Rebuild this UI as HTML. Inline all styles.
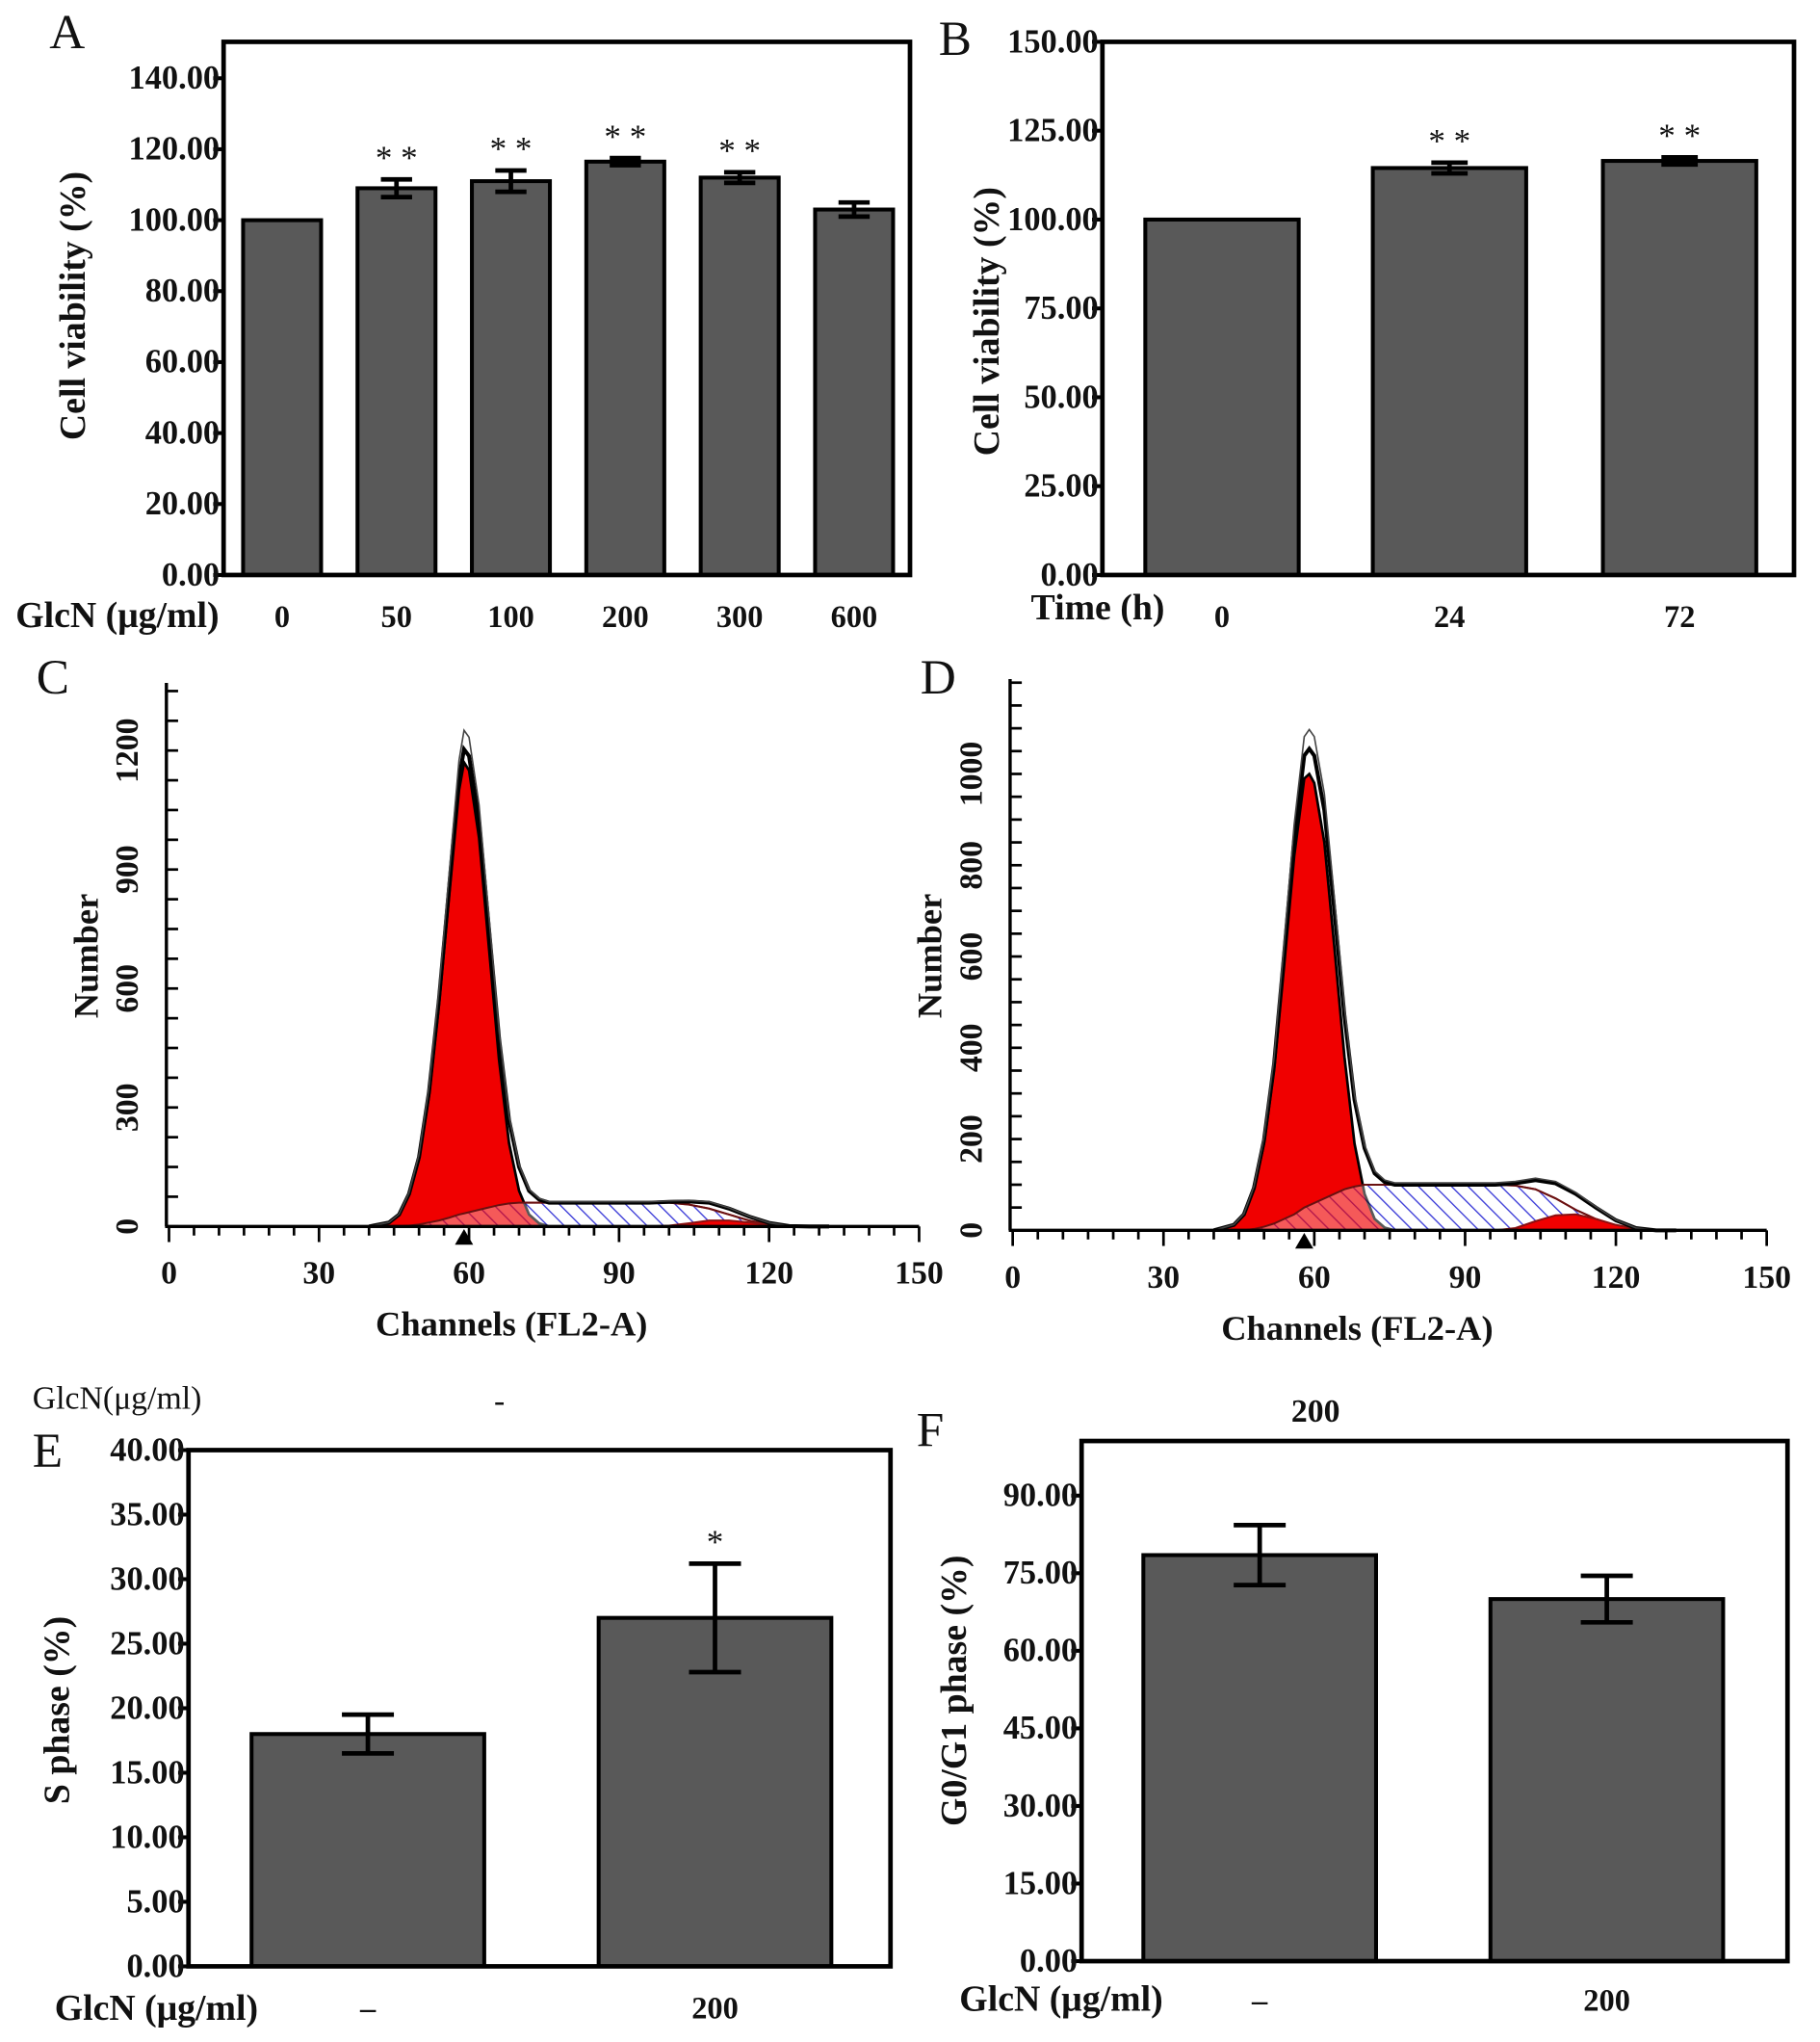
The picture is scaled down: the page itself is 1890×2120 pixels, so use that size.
<!DOCTYPE html>
<html><head><meta charset="utf-8"><style>
html,body{margin:0;padding:0;background:#fff}
svg{display:block}
text{font-family:"Liberation Serif",serif;font-weight:bold;fill:#111}
text.nb{font-weight:normal}
</style></head><body>
<svg id="fig" xmlns="http://www.w3.org/2000/svg" width="1890" height="2120" viewBox="0 0 1400 1570">
<defs>
<pattern id="hatch" patternUnits="userSpaceOnUse" width="9" height="9" patternTransform="rotate(-45)">
<rect width="9" height="9" fill="#fff"/><line x1="0" y1="0" x2="0" y2="9" stroke="#3b3bd8" stroke-width="2"/>
</pattern>
</defs>
</svg>
<script>
const NS='http://www.w3.org/2000/svg';
const svg=document.getElementById('fig');
// ---- Data ----
const catsA=['0','50','100','200','300','600'];
const valsA=[100,109,111,116.5,112,103];
const errsA=[0,2.5,3,1,1.5,2];
const sigA=['','**','**','**','**',''];
const ticksA=[0,20,40,60,80,100,120,140];
const catsB=['0','24','72'];
const valsB=[100,114.5,116.5];
const errsB=[0,1.5,1];
const sigB=['','**','**'];
const ticksB=[0,25,50,75,100,125,150];
const catsE=['–','200'];
const valsE=[18,27];
const errsE=[1.5,4.2];
const sigE=['','*'];
const ticksE=[0,5,10,15,20,25,30,35,40];
const catsF=['–','200'];
const valsF=[78.5,70];
const errsF=[5.8,4.5];
const ticksF=[0,15,30,45,60,75,90];
const channels=[40,44,46,48,50,52,54,56,58,59,60,62,64,66,68,70,72,74,76,80,84,88,92,96,100,104,108,112,116,120,124,128,132];
const cG1=[0,10,30,80,170,330,560,830,1100,1170,1150,980,700,420,210,90,30,8,0,0,0,0,0,0,0,0,0,0,0,0,0,0,0];
const cS=[0,0,0,2,5,10,15,22,30,33,36,42,48,54,58,60,60,60,60,60,60,60,60,60,60,55,45,30,15,5,0,0,0];
const cG2=[0,0,0,0,0,0,0,0,0,0,0,0,0,0,0,0,0,0,0,0,0,0,0,0,2,8,15,15,10,4,1,0,0];
const dG1=[0,12,35,90,190,350,580,820,990,1000,980,850,620,380,190,80,25,6,0,0,0,0,0,0,0,0,0,0,0,0,0,0,0];
const dS=[0,0,0,3,8,15,25,35,50,55,60,70,80,90,96,100,100,100,100,100,100,100,100,100,98,90,70,45,25,10,2,0,0];
const dG2=[0,0,0,0,0,0,0,0,0,0,0,0,0,0,0,0,0,0,0,0,0,0,0,0,5,20,33,35,25,12,3,0,0];
const xTicksHist=[0,30,60,90,120,150];
const ticksC=[0,300,600,900,1200];
const ticksD=[0,200,400,600,800,1000];

function el(tag,attrs,parent){const e=document.createElementNS(NS,tag);for(const k in attrs)e.setAttribute(k,attrs[k]);(parent||svg).appendChild(e);return e;}
function txt(s,x,y,size,attrs,parent){const t=el('text',Object.assign({x:x,y:y,'font-size':size},attrs||{}),parent);t.textContent=s;return t;}

function barPanel(o){
  const g=el('g',{});
  
  
  const yS=v=>o.y0-(v-0)*(o.y0-o.yTop)/(o.vTop);
  o.vals.forEach((v,i)=>{
    const cx=o.centers[i];
    const r=el('rect',{x:cx-o.bw/2,y:yS(v),width:o.bw,height:o.y0-yS(v),fill:'#595959',stroke:'#000','stroke-width':3},g);
    
    
    const e=o.errs[i];
    if(e>0){
      const eb=el('path',{d:`M${cx},${yS(v+e)}V${yS(v-e)}M${cx-o.cap},${yS(v+e)}H${cx+o.cap}M${cx-o.cap},${yS(v-e)}H${cx+o.cap}`,stroke:'#000','stroke-width':3.5,fill:'none'},g);
      
      
    }
    if(o.sig&&o.sig[i]){const s=txt(o.sig[i].split('').join(' '),cx,yS(v+e)-8,26,{'text-anchor':'middle',class:'nb'},g);
      
      }
    const tl=txt(o.cats[i],cx,o.catY,o.catSize||24,{'text-anchor':'middle'},g);
    
    
  });
  const fr=el('rect',{x:o.x0,y:o.frameTop,width:o.x1-o.x0,height:o.y0-o.frameTop,fill:'none',stroke:'#000','stroke-width':3.5},g);
  
  
  o.ticks.forEach(t=>{
    el('line',{x1:o.x0-8,x2:o.x0,y1:yS(t),y2:yS(t),stroke:'#000','stroke-width':3},g);
    const l=txt(t.toFixed(2),o.x0-3,yS(t)+8,25.5,{'text-anchor':'end'},g);
    
    
  });
  const yt=txt(o.ytitle,0,0,28,{'text-anchor':'middle',transform:`translate(${o.ytx},${o.yty}) rotate(-90)`},g);
  
  
  const xt=txt(o.xtitle,o.xtx,o.xty,28,{},g);
  
  
  const pl=txt(o.letter,o.lx,o.ly,38,{class:'nb'},g);
  
  
}

barPanel({name:'panel-a-chart',cats:catsA,vals:valsA,errs:errsA,sig:sigA,ticks:ticksA,centers:[217,305,393,481,569,657],bw:60,cap:12,
 x0:172,x1:700,y0:442,yTop:60,vTop:140,frameTop:32,catY:482,ytitle:'Cell viability (%)',ytx:65,yty:235,xtitle:'GlcN (μg/ml)',xtx:12,xty:482,letter:'A',lx:38,ly:37});
barPanel({name:'panel-b-chart',cats:catsB,vals:valsB,errs:errsB,sig:sigB,ticks:ticksB,centers:[940,1115,1292],bw:118,cap:14,
 x0:848,x1:1380,y0:442,yTop:32,vTop:150,frameTop:32,catY:482,ytitle:'Cell viability (%)',ytx:768,yty:247,xtitle:'Time (h)',xtx:793,xty:476,letter:'B',lx:722,ly:42});
barPanel({name:'panel-e-chart',cats:catsE,vals:valsE,errs:errsE,sig:sigE,ticks:ticksE,centers:[283,550],bw:179,cap:20,
 x0:145,x1:685,y0:1512,yTop:1115,vTop:40,frameTop:1115,catY:1552,ytitle:'S phase   (%)',ytx:53,yty:1315,xtitle:'GlcN (μg/ml)',xtx:42,xty:1553,letter:'E',lx:25,ly:1128});
barPanel({name:'panel-f-chart',cats:catsF,vals:valsF,errs:errsF,sig:null,ticks:ticksF,centers:[969,1236],bw:179,cap:20,
 x0:832,x1:1375,y0:1508,yTop:1150,vTop:90,frameTop:1108,catY:1546,ytitle:'G0/G1 phase   (%)',ytx:743,yty:1300,xtitle:'GlcN (μg/ml)',xtx:738,xty:1546,letter:'F',lx:705,ly:1112});

function histPanel(o){
  const g=el('g',{});
  
  
  const xS=c=>o.x0+c*(o.x1-o.x0)/150;
  const yS=v=>o.y0-v*o.ky;
  const area=arr=>'M'+xS(channels[0])+','+o.y0+channels.map((c,i)=>'L'+xS(c)+','+yS(arr[i])).join('')+'L'+xS(channels[channels.length-1])+','+o.y0+'Z';
  const line=arr=>channels.map((c,i)=>(i?'L':'M')+xS(c)+','+yS(arr[i])).join('');
  const s=el('path',{d:area(o.S),fill:'url(#hatch)',stroke:'#8b1010','stroke-width':1.5},g);
  
  
  const g1=el('path',{d:area(o.G1),fill:'#f00000',stroke:'#000','stroke-width':2},g);
  
  
  el('path',{d:area(o.S),fill:'url(#hatch)','fill-opacity':0.35,stroke:'#6a1010','stroke-width':1.5},g);
  const g2=el('path',{d:area(o.G2),fill:'#f00000',stroke:'#8b1010','stroke-width':1.5},g);
  
  
  const tot=channels.map((c,i)=>o.G1[i]+o.S[i]+o.G2[i]);
  const tl=el('path',{d:line(tot),fill:'none',stroke:'#000','stroke-width':3},g);
  
  
  el('path',{d:line(tot.map(v=>v*1.04)),fill:'none',stroke:'#444','stroke-width':1.2},g);
  el('line',{x1:o.x0-3,x2:o.x1,y1:o.y0,y2:o.y0,stroke:'#000','stroke-width':2.5},g);
  el('line',{x1:o.x0-2,x2:o.x0-2,y1:o.y0,y2:o.yTopAxis,stroke:'#000','stroke-width':2.5},g);
  for(let c=0;c<=150;c+=5){el('line',{x1:xS(c),x2:xS(c),y1:o.y0,y2:o.y0+(c%30?7:12),stroke:'#000','stroke-width':2},g);}
  xTicksHist.forEach(c=>{const t=txt(String(c),xS(c),o.y0+44,25,{'text-anchor':'middle'},g);
    
    });
  for(let v=0;o.y0-v*o.ky>o.yTopAxis;v+=o.minor){el('line',{x1:o.x0-2,x2:o.x0+7,y1:yS(v),y2:yS(v),stroke:'#000','stroke-width':2},g);}
  o.ticks.forEach(v=>{const t=txt(String(v),0,0,25,{'text-anchor':'middle',transform:`translate(${o.x0-24},${yS(v)}) rotate(-90)`,fill:'#3a1010'},g);
    
    });
  el('path',{d:`M${xS(o.mark)-7},${o.y0+14}L${xS(o.mark)},${o.y0+2}L${xS(o.mark)+7},${o.y0+14}Z`,fill:'#000'},g);
  const yt=txt('Number',0,0,27,{'text-anchor':'middle',transform:`translate(${o.x0-55},${o.yty}) rotate(-90)`,fill:'#3a1010'},g);
  
  
  const xt=txt('Channels (FL2-A)',(o.x0+o.x1)/2-25,o.y0+84,27,{'text-anchor':'middle',fill:'#3a1010'},g);
  
  
  const pl=txt(o.letter,o.lx,o.ly,38,{class:'nb'},g);
  
  
}
histPanel({name:'panel-c-histogram',G1:cG1,S:cS,G2:cG2,ticks:ticksC,minor:75,x0:130,x1:707,y0:943,ky:(943-577)/1200,yTopAxis:525,mark:59,yty:735,letter:'C',lx:28,ly:533});
histPanel({name:'panel-d-histogram',G1:dG1,S:dS,G2:dG2,ticks:ticksD,minor:50,x0:779,x1:1359,y0:946,ky:(946-595)/1000,yTopAxis:522,mark:58,yty:735,letter:'D',lx:708,ly:533});

const a=txt('GlcN(μg/ml)',25,1083,25,{class:'nb'});


const b=txt('-',380,1085,25,{class:'nb'});


const c=txt('200',1012,1093,25,{'text-anchor':'middle'});


</script>
</body></html>
